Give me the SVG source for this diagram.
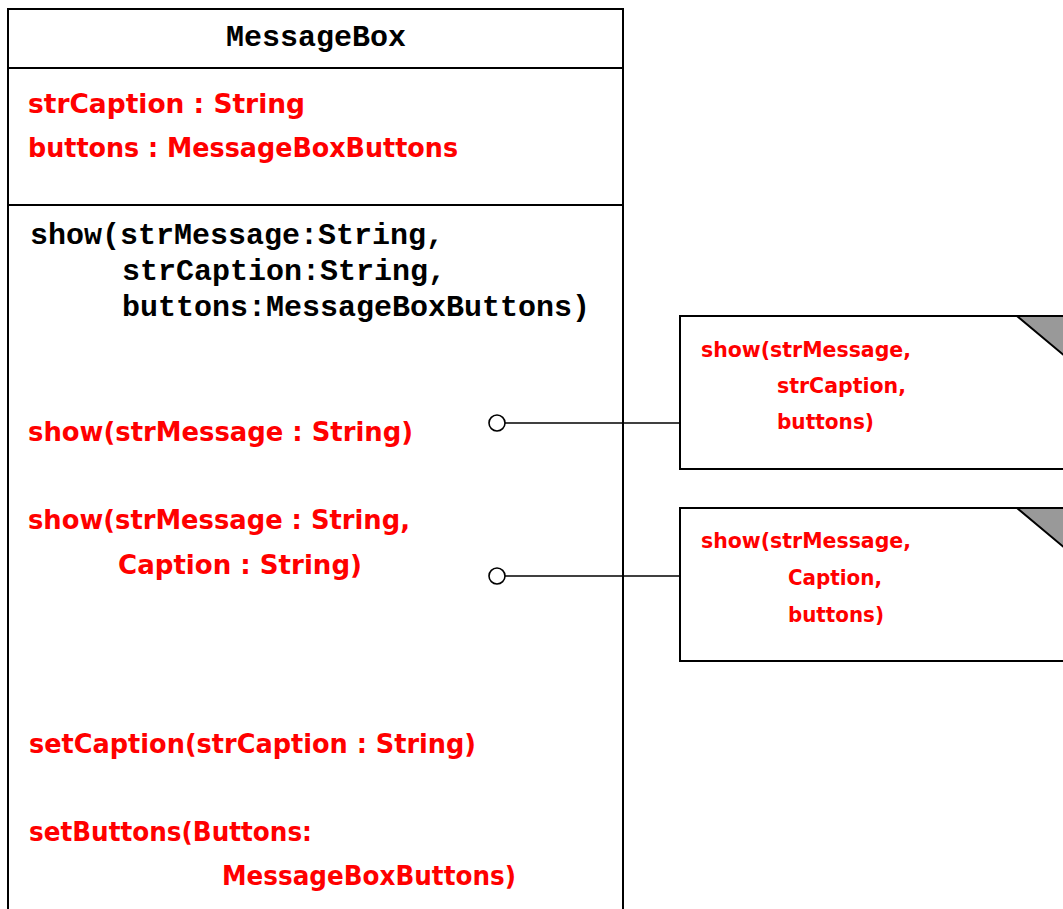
<svg xmlns="http://www.w3.org/2000/svg" width="1063" height="909" viewBox="0 0 1063 909">
  <style>
    .box { fill: #ffffff; stroke: #000000; stroke-width: 2; }
    .div { stroke: #000000; stroke-width: 2; fill: none; }
    .mono { font-family: "Liberation Mono", "Courier New", monospace; font-weight: bold; font-size: 30px; fill: #000000; }
    .red { font-family: "Comic Sans MS", "DejaVu Sans", "Liberation Sans", sans-serif; font-weight: bold; font-size: 27px; fill: #ff0000; }
    .nred { font-family: "Comic Sans MS", "DejaVu Sans", "Liberation Sans", sans-serif; font-weight: bold; font-size: 21px; fill: #ff0000; }
    .wire { stroke: #000000; stroke-width: 1.6; fill: none; }
    .port { fill: #ffffff; stroke: #000000; stroke-width: 1.6; }
    .fold { fill: #999999; stroke: #000000; stroke-width: 2; }
  </style>

  <rect width="1063" height="909" fill="#ffffff"/>

  <!-- Class: MessageBox -->
  <g id="messagebox">
    <rect class="box" x="8" y="9" width="615" height="920"/>
    <line class="div" x1="8" y1="68" x2="623" y2="68"/>
    <line class="div" x1="8" y1="205" x2="623" y2="205"/>
    <text class="mono" x="316" y="46" text-anchor="middle">MessageBox</text>

    <text class="red" x="28" y="113" textLength="277" lengthAdjust="spacingAndGlyphs">strCaption : String</text>
    <text class="red" x="28" y="157" textLength="430" lengthAdjust="spacingAndGlyphs">buttons : MessageBoxButtons</text>

    <text class="mono" x="30" y="244">show(strMessage:String,</text>
    <text class="mono" x="122" y="280">strCaption:String,</text>
    <text class="mono" x="122" y="316">buttons:MessageBoxButtons)</text>

    <text class="red" x="28" y="441" textLength="385" lengthAdjust="spacingAndGlyphs">show(strMessage : String)</text>
    <text class="red" x="28" y="529" textLength="382" lengthAdjust="spacingAndGlyphs">show(strMessage : String,</text>
    <text class="red" x="118" y="574" textLength="244" lengthAdjust="spacingAndGlyphs">Caption : String)</text>

    <text class="red" x="29" y="753" textLength="447" lengthAdjust="spacingAndGlyphs">setCaption(strCaption : String)</text>
    <text class="red" x="29" y="841" textLength="283" lengthAdjust="spacingAndGlyphs">setButtons(Buttons:</text>
    <text class="red" x="222" y="885" textLength="294" lengthAdjust="spacingAndGlyphs">MessageBoxButtons)</text>
  </g>

  <!-- Note: three-argument call -->
  <g id="note1">
    <rect class="box" x="680" y="316" width="400" height="153"/>
    <polygon class="fold" points="1017,316 1066,316 1066,357"/>
    <text class="nred" x="701" y="357" textLength="210" lengthAdjust="spacingAndGlyphs">show(strMessage,</text>
    <text class="nred" x="777" y="393" textLength="129" lengthAdjust="spacingAndGlyphs">strCaption,</text>
    <text class="nred" x="777" y="429" textLength="97" lengthAdjust="spacingAndGlyphs">buttons)</text>
  </g>

  <!-- Note: call with caption -->
  <g id="note2">
    <rect class="box" x="680" y="508" width="400" height="153"/>
    <polygon class="fold" points="1017,508 1066,508 1066,549"/>
    <text class="nred" x="701" y="548" textLength="210" lengthAdjust="spacingAndGlyphs">show(strMessage,</text>
    <text class="nred" x="788" y="585" textLength="94" lengthAdjust="spacingAndGlyphs">Caption,</text>
    <text class="nred" x="788" y="622" textLength="96" lengthAdjust="spacingAndGlyphs">buttons)</text>
  </g>

  <!-- Connectors from overloads to notes -->
  <g id="connectors">
    <line class="wire" x1="505" y1="423" x2="680" y2="423"/>
    <circle class="port" cx="497" cy="423" r="8"/>
    <line class="wire" x1="505" y1="576" x2="680" y2="576"/>
    <circle class="port" cx="497" cy="576" r="8"/>
  </g>
</svg>
